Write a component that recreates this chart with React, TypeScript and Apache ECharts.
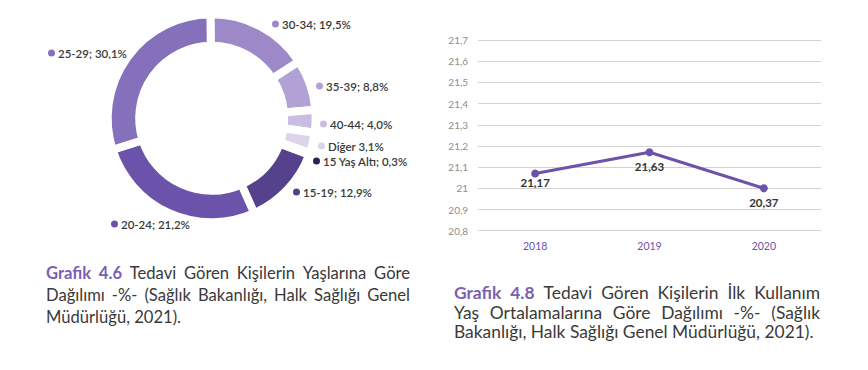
import React, { useEffect, useRef } from "react";
import * as echarts from "echarts";

// ---- Data ----
const ageGroups = ["30-34", "35-39", "40-44", "Diğer", "15 Yaş Altı", "15-19", "20-24", "25-29"];
// percentages printed in the labels
const agePercents = [19.5, 8.8, 4.0, 3.1, 0.3, 12.9, 21.2, 30.1];
// slice shares as drawn in the picture (%)
const sliceShares = [16.0, 7.9, 3.5, 3.2, 0.3, 12.6, 26.8, 29.7];
const ageColors = ["#9e89c8", "#b1a1d4", "#c9bde1", "#ddd4ec", "#2f2150", "#56418c", "#6b52aa", "#8571bb"];

const years = ["2018", "2019", "2020"];
// positions as drawn on the axis
const plottedValues = [21.07, 21.17, 21.0];
// values printed as data labels
const valueLabels = ["21,17", "21,63", "20,37"];

const caption1 = [
  "Grafik 4.6 Tedavi Gören Kişilerin Yaşlarına Göre",
  "Dağılımı -%- (Sağlık Bakanlığı, Halk Sağlığı Genel",
  "Müdürlüğü, 2021).",
];
const caption2 = [
  "Grafik 4.8 Tedavi Gören Kişilerin İlk Kullanım",
  "Yaş Ortalamalarına Göre Dağılımı -%- (Sağlık",
  "Bakanlığı, Halk Sağlığı Genel Müdürlüğü, 2021).",
];

const FONT = "Lato, 'Noto Sans', sans-serif";
const TEXT = "#3a3a3a";
const PURPLE = "#6b52aa";

function buildCaption(lines: string[], x0: number, x1: number, ys: number[], size: number) {
  const ctx = document.createElement("canvas").getContext("2d")!;
  const out: any[] = [];
  lines.forEach((line, li) => {
    const words = line.split(" ");
    const bold = words.map((w, wi) => li === 0 && wi < 2);
    const fontOf = (b: boolean) => `${b ? "bold " : ""}${size}px ${FONT}`;
    const widths = words.map((w, wi) => {
      ctx.font = fontOf(bold[wi]);
      return ctx.measureText(w).width;
    });
    ctx.font = fontOf(false);
    const space = ctx.measureText(" ").width;
    const total = widths.reduce((a, b) => a + b, 0);
    const justify = li < lines.length - 1 && words.length > 1;
    const gap = justify ? (x1 - x0 - total) / (words.length - 1) : space;
    let x = x0;
    words.forEach((w, wi) => {
      out.push({
        type: "text",
        x,
        y: ys[li],
        silent: true,
        style: {
          text: w,
          font: fontOf(bold[wi]),
          fill: bold[wi] ? "#7a5fb3" : TEXT,
          textVerticalAlign: "middle",
          textAlign: "left",
        },
      });
      x += widths[wi] + gap;
    });
  });
  return out;
}

export default function App() {
  const ref = useRef<HTMLDivElement>(null);

  useEffect(() => {
    document.body.style.margin = "0";
    if (!ref.current) return;
    const chart = echarts.init(ref.current, undefined, { renderer: "svg" });

    const labelPos: [number, number][] = [
      [272, 24],
      [316, 86],
      [320, 124],
      [318, 146],
      [313, 161],
      [293, 192],
      [111, 224],
      [48, 53],
    ];

    const fmt = (v: number) => v.toFixed(1).replace(".", ",");

    const pieData = ageGroups.map((name, i) => ({
      name,
      value: sliceShares[i],
      itemStyle: { color: ageColors[i] },
      label: {
        formatter: `{dot|}{t|${name}${name === "Diğer" ? " " : "; "}${fmt(agePercents[i])}%}`,
        rich: {
          dot: { width: 7, height: 7, borderRadius: 3.5, backgroundColor: ageColors[i] },
          t: {
            fontFamily: FONT,
            fontSize: 11.5,
            fontWeight: 600,
            color: TEXT,
            padding: [0, 0, 0, 3],
          },
        },
      },
    }));

    chart.setOption({
      animation: false,
      textStyle: { fontFamily: FONT },
      grid: { left: 478, right: 47, top: 40, bottom: 139.3 },
      xAxis: {
        type: "category",
        data: years,
        boundaryGap: true,
        axisLine: { show: false },
        axisTick: { show: false },
        axisLabel: { color: PURPLE, fontSize: 10.5, margin: 10, fontFamily: FONT },
        splitLine: { show: false },
      },
      yAxis: {
        type: "value",
        min: 20.8,
        max: 21.7,
        interval: 0.1,
        axisLine: { show: false },
        axisTick: { show: false },
        axisLabel: {
          color: "#8d8d8d",
          fontSize: 10,
          margin: 10,
          fontFamily: FONT,
          formatter: (v: number) => Number(v.toFixed(1)).toString().replace(".", ","),
        },
        splitLine: { lineStyle: { color: "#d2d2d2", width: 1 } },
      },
      series: [
        {
          type: "pie",
          silent: true,
          center: [211.7, 118.3],
          radius: [72.5, 104],
          startAngle: 90.7,
          clockwise: true,
          itemStyle: { borderColor: "#ffffff", borderWidth: 8 },
          label: {
            show: true,
            position: "outside",
            overflow: "none",
          },
          labelLine: { show: false },
          labelLayout: (p: any) => ({
            x: labelPos[p.dataIndex][0],
            y: labelPos[p.dataIndex][1],
            align: "left",
            verticalAlign: "middle",
          }),
          emphasis: { disabled: true },
          data: pieData,
        },
        {
          type: "line",
          data: plottedValues.map((v, i) => ({
            value: v,
            label: { distance: i === 0 ? -1 : 4 },
          })),
          symbol: "circle",
          symbolSize: 8,
          lineStyle: { color: PURPLE, width: 3 },
          itemStyle: { color: PURPLE },
          label: {
            show: true,
            position: "bottom",
            color: "#333333",
            fontWeight: "bold",
            fontSize: 11.5,
            fontFamily: FONT,
            formatter: (p: any) => valueLabels[p.dataIndex],
          },
          emphasis: { disabled: true },
        },
      ],
      graphic: [
        ...buildCaption(caption1, 46, 410, [273, 295, 317], 16.6),
        ...buildCaption(caption2, 454, 820, [292, 312, 331.5], 17.4),
      ],
    });

    return () => chart.dispose();
  }, []);

  return <div ref={ref} style={{ width: 868, height: 370 }} />;
}
